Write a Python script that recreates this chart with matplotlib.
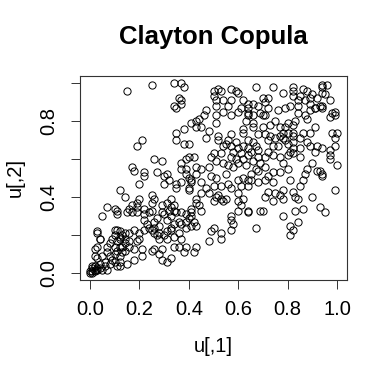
import numpy as np
import matplotlib
matplotlib.use("Agg")
import matplotlib.pyplot as plt

plt.rcParams['font.family'] = ['Liberation Sans', 'DejaVu Sans']

# sample points (u[,1], u[,2])
u1 = [0.15, 0.25, 0.34, 0.37, 0.38, 0.50, 0.52, 0.53, 0.57, 0.59, 0.60, 0.67, 0.74, 0.78, 0.82, 0.82, 0.86, 0.88, 0.90, 0.94,
      0.96, 0.94, 0.94, 0.95, 0.97, 0.50, 0.51, 0.54, 0.57, 0.62, 0.64, 0.66, 0.70, 0.72, 0.71, 0.36, 0.37, 0.37, 0.34, 0.35,
      0.82, 0.84, 0.85, 0.87, 0.89, 0.89, 0.92, 0.93, 0.94, 0.99, 0.98, 0.91, 0.84, 0.81, 0.79, 0.76, 0.61, 0.64, 0.68, 0.72,
      0.56, 0.51, 0.54, 0.57, 0.51, 0.47, 0.46, 0.44, 0.43, 0.41, 0.43, 0.45, 0.48, 0.51, 0.38, 0.35, 0.35, 0.38, 0.40, 0.47,
      0.52, 0.54, 0.57, 0.57, 0.60, 0.64, 0.64, 0.66, 0.66, 0.69, 0.70, 0.71, 0.66, 0.62, 0.64, 0.68, 0.70, 0.73, 0.75, 0.77,
      0.79, 0.80, 0.82, 0.83, 0.84, 0.87, 0.88, 0.89, 0.91, 0.94, 0.97, 0.99, 0.98, 1.00, 0.99, 0.99, 0.97, 0.97, 0.97, 1.00,
      0.99, 0.91, 0.89, 0.86, 0.82, 0.82, 0.80, 0.78, 0.77, 0.75, 0.73, 0.72, 0.71, 0.76, 0.79, 0.82, 0.85, 0.88, 0.89, 0.92,
      0.94, 0.91, 0.85, 0.82, 0.81, 0.82, 0.85, 0.80, 0.77, 0.74, 0.71, 0.68, 0.67, 0.66, 0.64, 0.62, 0.60, 0.59, 0.56, 0.58,
      0.61, 0.64, 0.62, 0.59, 0.57, 0.53, 0.50, 0.49, 0.51, 0.54, 0.56, 0.58, 0.60, 0.63, 0.66, 0.69, 0.71, 0.68, 0.65, 0.64,
      0.68, 0.71, 0.72, 0.74, 0.75, 0.77, 0.78, 0.78, 0.81, 0.82, 0.83, 0.84, 0.85, 0.86, 0.87, 0.88, 0.90, 0.92, 0.93, 0.94,
      0.94, 0.90, 0.93, 0.95, 0.86, 0.83, 0.84, 0.82, 0.81, 0.81, 0.78, 0.78, 0.80, 0.72, 0.67, 0.65, 0.62, 0.60, 0.61, 0.64,
      0.60, 0.60, 0.61, 0.62, 0.60, 0.64, 0.64, 0.69, 0.70, 0.67, 0.71, 0.74, 0.55, 0.56, 0.57, 0.51, 0.49, 0.48, 0.45, 0.43,
      0.42, 0.40, 0.39, 0.37, 0.37, 0.39, 0.39, 0.40, 0.41, 0.41, 0.40, 0.40, 0.37, 0.35, 0.35, 0.32, 0.31, 0.30, 0.29, 0.26,
      0.27, 0.30, 0.22, 0.20, 0.21, 0.19, 0.17, 0.18, 0.12, 0.14, 0.25, 0.48, 0.51, 0.53, 0.54, 0.55, 0.45, 0.47, 0.50, 0.44,
      0.43, 0.43, 0.45, 0.41, 0.41, 0.39, 0.41, 0.42, 0.43, 0.41, 0.40, 0.39, 0.37, 0.39, 0.36, 0.34, 0.37, 0.36, 0.38, 0.34,
      0.31, 0.28, 0.29, 0.29, 0.31, 0.33, 0.28, 0.26, 0.42, 0.39, 0.43, 0.48, 0.50, 0.53, 0.53, 0.57, 0.57, 0.58, 0.57, 0.49,
      0.31, 0.33, 0.33, 0.34, 0.32, 0.34, 0.35, 0.37, 0.33, 0.31, 0.30, 0.29, 0.27, 0.26, 0.28, 0.26, 0.25, 0.24, 0.23, 0.22,
      0.22, 0.24, 0.25, 0.22, 0.19, 0.20, 0.19, 0.17, 0.16, 0.19, 0.17, 0.15, 0.11, 0.11, 0.07, 0.05, 0.20, 0.22, 0.18, 0.20,
      0.19, 0.21, 0.21, 0.18, 0.18, 0.16, 0.16, 0.25, 0.26, 0.27, 0.28, 0.30, 0.31, 0.33, 0.34, 0.36, 0.10, 0.11, 0.12, 0.10,
      0.12, 0.13, 0.14, 0.14, 0.16, 0.12, 0.11, 0.14, 0.13, 0.09, 0.08, 0.10, 0.11, 0.10, 0.08, 0.09, 0.10, 0.12, 0.12, 0.13,
      0.12, 0.11, 0.15, 0.14, 0.12, 0.07, 0.07, 0.04, 0.03, 0.03, 0.03, 0.02, 0.04, 0.05, 0.06, 0.04, 0.03, 0.02, 0.07, 0.08,
      0.06, 0.04, 0.05, 0.00, 0.01, 0.02, 0.01, 0.02, 0.00, 0.01, 0.03, 0.02, 0.03, 0.01, 0.02, 0.50, 0.52, 0.53, 0.55, 0.52,
      0.62, 0.63, 0.78, 0.80, 0.74, 0.72, 0.65, 0.68, 0.74, 0.77, 0.43, 0.45, 0.33, 0.22, 0.25, 0.26, 0.29, 0.10]
u2 = [0.96, 0.99, 1.00, 1.00, 0.98, 0.96, 0.97, 0.96, 0.97, 0.96, 0.95, 0.98, 0.98, 0.95, 0.98, 0.96, 0.97, 0.96, 0.94, 0.99,
      0.99, 0.98, 0.95, 0.94, 0.91, 0.93, 0.91, 0.91, 0.91, 0.91, 0.89, 0.89, 0.92, 0.92, 0.90, 0.92, 0.91, 0.89, 0.88, 0.87,
      0.93, 0.91, 0.93, 0.91, 0.92, 0.89, 0.92, 0.88, 0.87, 0.85, 0.84, 0.87, 0.88, 0.88, 0.87, 0.86, 0.87, 0.87, 0.88, 0.87,
      0.88, 0.88, 0.85, 0.83, 0.83, 0.86, 0.83, 0.81, 0.80, 0.79, 0.77, 0.77, 0.75, 0.79, 0.76, 0.74, 0.70, 0.68, 0.68, 0.71,
      0.70, 0.67, 0.67, 0.73, 0.85, 0.84, 0.83, 0.79, 0.77, 0.84, 0.83, 0.83, 0.83, 0.74, 0.70, 0.73, 0.77, 0.78, 0.80, 0.77,
      0.77, 0.79, 0.78, 0.80, 0.84, 0.83, 0.81, 0.86, 0.87, 0.88, 0.82, 0.83, 0.74, 0.74, 0.71, 0.67, 0.65, 0.62, 0.60, 0.57,
      0.44, 0.77, 0.74, 0.74, 0.74, 0.72, 0.74, 0.74, 0.72, 0.71, 0.72, 0.70, 0.73, 0.67, 0.70, 0.69, 0.71, 0.69, 0.67, 0.67,
      0.66, 0.64, 0.66, 0.66, 0.64, 0.63, 0.61, 0.62, 0.61, 0.62, 0.61, 0.61, 0.67, 0.69, 0.66, 0.67, 0.66, 0.69, 0.70, 0.64,
      0.63, 0.62, 0.60, 0.60, 0.61, 0.63, 0.63, 0.61, 0.59, 0.58, 0.57, 0.56, 0.58, 0.57, 0.59, 0.58, 0.56, 0.54, 0.49, 0.46,
      0.48, 0.49, 0.43, 0.48, 0.42, 0.41, 0.39, 0.44, 0.49, 0.43, 0.40, 0.39, 0.46, 0.49, 0.52, 0.55, 0.58, 0.54, 0.54, 0.52,
      0.51, 0.40, 0.35, 0.32, 0.34, 0.33, 0.27, 0.23, 0.20, 0.25, 0.30, 0.58, 0.55, 0.51, 0.55, 0.52, 0.50, 0.49, 0.46, 0.49,
      0.42, 0.38, 0.36, 0.39, 0.33, 0.32, 0.33, 0.33, 0.33, 0.24, 0.40, 0.38, 0.52, 0.47, 0.45, 0.50, 0.51, 0.56, 0.55, 0.56,
      0.61, 0.61, 0.60, 0.58, 0.55, 0.55, 0.52, 0.50, 0.49, 0.48, 0.45, 0.44, 0.48, 0.47, 0.45, 0.49, 0.52, 0.51, 0.59, 0.60,
      0.53, 0.47, 0.51, 0.47, 0.70, 0.67, 0.56, 0.54, 0.44, 0.40, 0.41, 0.42, 0.40, 0.39, 0.38, 0.39, 0.42, 0.45, 0.46, 0.36,
      0.39, 0.37, 0.33, 0.34, 0.32, 0.31, 0.30, 0.27, 0.25, 0.25, 0.29, 0.27, 0.26, 0.24, 0.21, 0.19, 0.18, 0.14, 0.11, 0.14,
      0.18, 0.18, 0.13, 0.07, 0.06, 0.08, 0.10, 0.13, 0.11, 0.14, 0.14, 0.17, 0.24, 0.21, 0.18, 0.23, 0.28, 0.26, 0.30, 0.22,
      0.37, 0.39, 0.35, 0.36, 0.33, 0.33, 0.32, 0.32, 0.30, 0.28, 0.31, 0.32, 0.29, 0.27, 0.25, 0.24, 0.23, 0.24, 0.26, 0.28,
      0.31, 0.32, 0.33, 0.34, 0.37, 0.39, 0.35, 0.36, 0.34, 0.32, 0.32, 0.32, 0.33, 0.31, 0.35, 0.30, 0.21, 0.23, 0.23, 0.18,
      0.17, 0.13, 0.09, 0.07, 0.13, 0.17, 0.14, 0.12, 0.21, 0.20, 0.21, 0.20, 0.22, 0.24, 0.26, 0.27, 0.23, 0.23, 0.22, 0.20,
      0.19, 0.20, 0.18, 0.21, 0.21, 0.18, 0.17, 0.16, 0.14, 0.18, 0.16, 0.14, 0.12, 0.10, 0.09, 0.07, 0.06, 0.06, 0.09, 0.11,
      0.04, 0.04, 0.05, 0.12, 0.14, 0.14, 0.11, 0.18, 0.22, 0.21, 0.14, 0.13, 0.18, 0.09, 0.06, 0.05, 0.08, 0.09, 0.02, 0.05,
      0.04, 0.03, 0.02, 0.01, 0.01, 0.02, 0.03, 0.01, 0.00, 0.00, 0.03, 0.04, 0.02, 0.04, 0.04, 0.38, 0.41, 0.46, 0.68, 0.72,
      0.76, 0.80, 0.71, 0.68, 0.67, 0.64, 0.64, 0.65, 0.53, 0.53, 0.52, 0.48, 0.23, 0.53, 0.37, 0.39, 0.36, 0.34]

fig = plt.figure(figsize=(3.88, 3.71), dpi=100)
ax = fig.add_axes([80 / 388, 1 - 280 / 371, 267 / 388, 204 / 371])

ax.plot(u1, u2, 'o', mfc='none', mec='black', ms=5.2, mew=0.7)

ax.set_xlim(-0.04, 1.04)
ax.set_ylim(-0.035, 1.037)
ax.set_xticks(np.arange(0, 1.01, 0.2))
ax.set_xticklabels(['0.0', '0.2', '0.4', '0.6', '0.8', '1.0'])
ax.set_yticks(np.arange(0, 1.01, 0.2))
ax.set_yticklabels(['0.0', '', '0.4', '', '0.8', ''], rotation=90, va='center')
ax.tick_params(direction='out', length=6.5, width=0.7, labelsize=14.5, color='#333333')
ax.tick_params(axis='x', pad=8)
ax.tick_params(axis='y', pad=9)
for s in ax.spines.values():
    s.set_linewidth(0.8)
    s.set_color('#333333')

fig.text(213 / 388, 1 - 37 / 371, 'Clayton Copula', ha='center', va='center',
         fontsize=18.5, fontweight='bold')
fig.text(213 / 388, 1 - 347 / 371, 'u[,1]', ha='center', va='center', fontsize=14.5)
fig.text(15 / 388, 1 - 178 / 371, 'u[,2]', ha='center', va='center', fontsize=14.5, rotation=90)

fig.savefig('out.png', dpi=100)
